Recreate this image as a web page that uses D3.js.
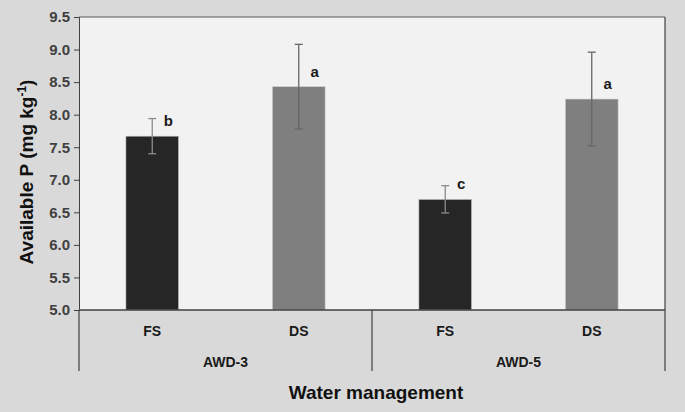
<!DOCTYPE html>
<html>
<head>
<meta charset="utf-8">
<script src="https://cdn.jsdelivr.net/npm/d3@7"></script>
<style>
  body { margin: 0; background: #d9d9d9; }
  text { font-family: "Liberation Sans", Arial, sans-serif; font-weight: bold; }
</style>
</head>
<body>
<div id="chart"></div>
<script>
(function () {

  // groups on the x axis and the treatments inside each group
  const groups = ['AWD-3', 'AWD-5']
  const treatments = ['FS', 'DS']

  // available P values (one per group)
  const fsMeans = [7.67, 6.70]
  const dsMeans = [8.43, 8.24]
  const fsErrors = [0.27, 0.21]
  const dsErrors = [0.65, 0.72]
  const fsLetters = ['b', 'c']
  const dsLetters = ['a', 'a']

  const yTicks = [5.0, 5.5, 6.0, 6.5, 7.0, 7.5, 8.0, 8.5, 9.0, 9.5]

  const margin = { top: 17, right: 20, bottom: 102, left: 79 }
  const width = 685 - margin.left - margin.right
  const height = 412 - margin.top - margin.bottom

  const svg = d3.select('#chart').append('svg')
      .attr('width', width + margin.left + margin.right)
      .attr('height', height + margin.top + margin.bottom)

  svg.append('rect')
    .attr('width', 685)
    .attr('height', 412)
    .attr('fill', '#d9d9d9')

  const g = svg.append('g')
    .attr('transform', 'translate(' + margin.left + ',' + margin.top + ')')

  const xGroup = d3.scaleBand()
    .domain(groups)
    .range([0, width])

  const xTreat = d3.scaleBand()
    .domain(treatments)
    .range([0, xGroup.bandwidth()])
    .paddingInner(0.64)
    .paddingOuter(0.32)

  const yPositionScale = d3.scaleLinear()
    .domain([5, 9.5])
    .range([height, 0])

  const colorScale = d3.scaleOrdinal()
    .domain(treatments)
    .range(['#262626', '#7f7f7f'])

  // one row per bar, built from the arrays above
  const datapoints = []
  groups.forEach((grp, i) => {
    datapoints.push({ group: grp, treat: 'FS', mean: fsMeans[i], err: fsErrors[i], letter: fsLetters[i] })
    datapoints.push({ group: grp, treat: 'DS', mean: dsMeans[i], err: dsErrors[i], letter: dsLetters[i] })
  })

  // plot area background
  g.append('rect')
    .attr('width', width)
    .attr('height', height)
    .attr('fill', '#f2f2f2')

  const barX = d => xGroup(d.group) + xTreat(d.treat)
  const barMid = d => barX(d) + xTreat.bandwidth() / 2

  g.selectAll('.bar')
    .data(datapoints)
    .join('rect')
    .attr('class', 'bar')
    .attr('x', barX)
    .attr('width', xTreat.bandwidth())
    .attr('y', d => yPositionScale(d.mean))
    .attr('height', d => height - yPositionScale(d.mean))
    .attr('fill', d => colorScale(d.treat))
    .attr('stroke', '#d0d0d0')
    .attr('stroke-width', 0.6)

  // error bars
  const errs = g.selectAll('.err')
    .data(datapoints)
    .join('g')
    .attr('class', 'err')
    .attr('stroke', d => d.treat === 'FS' ? '#8c8c8c' : '#666666')
    .attr('stroke-width', 1.3)

  errs.append('line')
    .attr('x1', barMid)
    .attr('x2', barMid)
    .attr('y1', d => yPositionScale(d.mean + d.err))
    .attr('y2', d => yPositionScale(d.mean - d.err))

  errs.append('line')
    .attr('x1', d => barMid(d) - 4)
    .attr('x2', d => barMid(d) + 4)
    .attr('y1', d => yPositionScale(d.mean + d.err))
    .attr('y2', d => yPositionScale(d.mean + d.err))

  errs.append('line')
    .attr('x1', d => barMid(d) - 4)
    .attr('x2', d => barMid(d) + 4)
    .attr('y1', d => yPositionScale(d.mean - d.err))
    .attr('y2', d => yPositionScale(d.mean - d.err))

  // significance letters
  g.selectAll('.letter')
    .data(datapoints)
    .join('text')
    .attr('class', 'letter')
    .attr('x', d => barMid(d) + 16)
    .attr('y', d => yPositionScale(d.mean) - 10)
    .attr('text-anchor', 'middle')
    .attr('font-size', 15)
    .attr('fill', '#1a1a1a')
    .text(d => d.letter)

  // y axis
  const yAxis = d3.axisLeft(yPositionScale)
    .tickValues(yTicks)
    .tickFormat(d3.format('.1f'))
    .tickSize(5)
    .tickPadding(4)

  const yG = g.append('g')
    .attr('class', 'axis y-axis')
    .call(yAxis)
  yG.select('.domain').attr('stroke', '#404040')
  yG.selectAll('line').attr('stroke', '#404040')
  yG.selectAll('text')
    .attr('font-size', 15)
    .attr('fill', '#404040')
    .attr('font-family', '"Liberation Sans", Arial, sans-serif')
    .attr('font-weight', 'bold')

  // top border of the plot + x axis line
  g.append('line')
    .attr('x1', 0).attr('x2', width)
    .attr('y1', 0).attr('y2', 0)
    .attr('stroke', '#595959')
  g.append('line')
    .attr('x1', 0).attr('x2', width)
    .attr('y1', height).attr('y2', height)
    .attr('stroke', '#404040')
    .attr('stroke-width', 1.5)

  // right border runs from the top down through the label area
  g.append('line')
    .attr('x1', width).attr('x2', width)
    .attr('y1', 0).attr('y2', height + 61)
    .attr('stroke', '#404040')
    .attr('stroke-width', 1.2)

  // group dividers below the axis line only
  g.selectAll('.divider')
    .data(groups.map(grp => xGroup(grp)))
    .join('line')
    .attr('class', 'divider')
    .attr('x1', d => d).attr('x2', d => d)
    .attr('y1', height).attr('y2', height + 61)
    .attr('stroke', '#404040')
    .attr('stroke-width', 1.2)

  // treatment labels
  g.selectAll('.treat-label')
    .data(datapoints)
    .join('text')
    .attr('class', 'treat-label')
    .attr('x', barMid)
    .attr('y', height + 26)
    .attr('text-anchor', 'middle')
    .attr('font-size', 14)
    .attr('fill', '#1a1a1a')
    .text(d => d.treat)

  // group labels
  g.selectAll('.group-label')
    .data(groups)
    .join('text')
    .attr('class', 'group-label')
    .attr('x', d => xGroup(d) + xGroup.bandwidth() / 2)
    .attr('y', height + 57)
    .attr('text-anchor', 'middle')
    .attr('font-size', 14)
    .attr('fill', '#1a1a1a')
    .text(d => d)

  // axis titles
  g.append('text')
    .attr('x', width / 2 + 4)
    .attr('y', height + 89)
    .attr('text-anchor', 'middle')
    .attr('font-size', 19)
    .attr('fill', '#111')
    .text('Water management')

  const yTitle = svg.append('text')
    .attr('transform', 'translate(33,172) rotate(-90)')
    .attr('text-anchor', 'middle')
    .attr('font-size', 19)
    .attr('fill', '#111')
  yTitle.append('tspan').text('Available P (mg kg')
  yTitle.append('tspan').text('-1').attr('font-size', 12).attr('dy', -7)
  yTitle.append('tspan').text(')').attr('dy', 7)

})();
</script>
</body>
</html>
